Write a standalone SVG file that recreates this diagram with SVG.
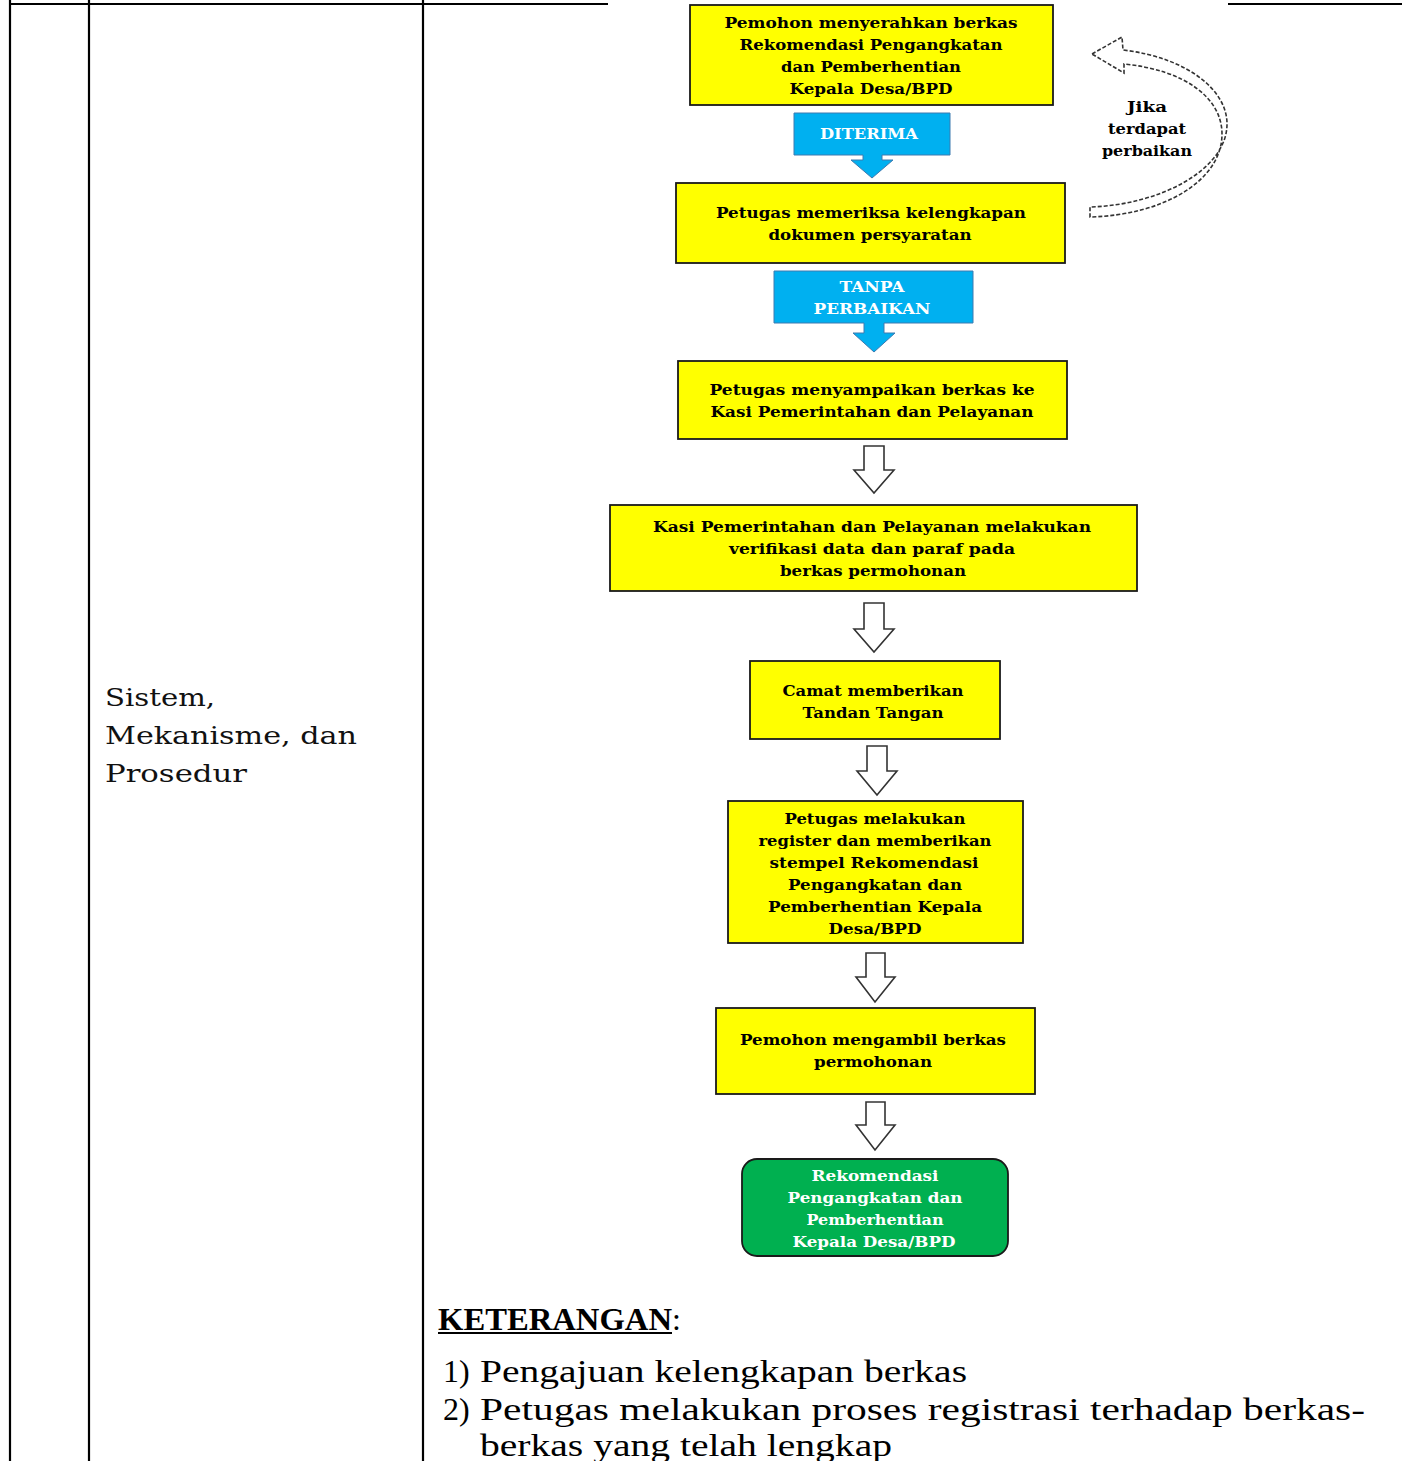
<svg xmlns="http://www.w3.org/2000/svg" width="1402" height="1461" viewBox="0 0 1402 1461">
<style>
.tbl{stroke:#000;stroke-width:2.2;fill:none}
.box{fill:#FFFF00;stroke:#1a1a1a;stroke-width:1.8}
.end{fill:#00B050;stroke:#1a1a1a;stroke-width:1.8}
.blue{fill:#00B0F0;stroke:#3d7ab0;stroke-width:1}
.hol{fill:#fff;stroke:#333;stroke-width:1.6;stroke-linejoin:miter}
.ft{font-family:"DejaVu Serif","Liberation Serif",serif;font-weight:bold;font-size:15px;fill:#000;text-anchor:middle}
.lt{font-family:"DejaVu Serif","Liberation Serif",serif;font-size:25px;fill:#111}
.kt{font-family:"Liberation Serif","DejaVu Serif",serif;font-size:32px;fill:#000}
</style>
<rect width="1402" height="1461" fill="#fff"/>
<g id="table">
<line class="tbl" x1="10" y1="0" x2="10" y2="1461"/>
<line class="tbl" x1="89" y1="0" x2="89" y2="1461"/>
<line class="tbl" x1="423" y1="0" x2="423" y2="1461"/>
<line class="tbl" x1="10" y1="4" x2="608" y2="4"/>
<line class="tbl" x1="1228" y1="4" x2="1402" y2="4"/>
</g>
<g id="label-left">
<text class="lt" x="105" y="706" textLength="110" lengthAdjust="spacingAndGlyphs">Sistem,</text>
<text class="lt" x="105" y="744" textLength="252" lengthAdjust="spacingAndGlyphs">Mekanisme, dan</text>
<text class="lt" x="105" y="782" textLength="142" lengthAdjust="spacingAndGlyphs">Prosedur</text>
</g>
<g id="connectors">
<path id="c-diterima" class="blue" d="M794,113 H950 V155 H882 V160 H893 L872,178 L851,160 H863 V155 H794 Z"/>
<path id="c-tanpa" class="blue" d="M774,271 H973 V323 H884 V333 H895 L874,352 L853,333 H864 V323 H774 Z"/>
<path class="hol" d="M864,446 H884 V470 H894 L874,493 L854,470 H864 Z"/>
<path class="hol" d="M864,603 H884 V629 H894 L874,652 L854,629 H864 Z"/>
<path class="hol" d="M867,746 H887 V771 H897 L877,795 L857,771 H867 Z"/>
<path class="hol" d="M866,953 H885 V977 H895 L875,1002 L856,977 H866 Z"/>
<path class="hol" d="M866,1102 H885 V1125 H895 L875,1150 L856,1125 H866 Z"/>
<path id="c-loop" d="M1092,54 L1122,37 L1123,50 C1190,58 1228,92 1227,125 C1226,170 1160,205 1090,207 L1090,217 C1165,215 1222,180 1222,134 C1222,98 1185,70 1124,64 L1124,73 Z" fill="#fff" stroke="#333" stroke-width="1.6" stroke-dasharray="4,2"/>
<text class="ft" x="869" y="139" textLength="98" lengthAdjust="spacingAndGlyphs" style="fill:#fff">DITERIMA</text>
<text class="ft" x="872" y="292" textLength="65" lengthAdjust="spacingAndGlyphs" style="fill:#fff">TANPA</text>
<text class="ft" x="872" y="314" textLength="117" lengthAdjust="spacingAndGlyphs" style="fill:#fff">PERBAIKAN</text>
<text class="ft" x="1147" y="112" textLength="40" lengthAdjust="spacingAndGlyphs">Jika</text>
<text class="ft" x="1147" y="134" textLength="78" lengthAdjust="spacingAndGlyphs">terdapat</text>
<text class="ft" x="1147" y="156" textLength="90" lengthAdjust="spacingAndGlyphs">perbaikan</text>
</g>
<g id="n1">
<rect class="box" x="690" y="5" width="363" height="100"/>
<text class="ft" x="871" y="28" textLength="293" lengthAdjust="spacingAndGlyphs">Pemohon menyerahkan  berkas</text>
<text class="ft" x="871" y="50" textLength="263" lengthAdjust="spacingAndGlyphs">Rekomendasi Pengangkatan</text>
<text class="ft" x="871" y="72" textLength="180" lengthAdjust="spacingAndGlyphs">dan Pemberhentian</text>
<text class="ft" x="871" y="94" textLength="163" lengthAdjust="spacingAndGlyphs">Kepala Desa/BPD</text>
</g>
<g id="n2">
<rect class="box" x="676" y="183" width="389" height="80"/>
<text class="ft" x="871" y="218" textLength="310" lengthAdjust="spacingAndGlyphs">Petugas memeriksa  kelengkapan</text>
<text class="ft" x="870" y="240" textLength="203" lengthAdjust="spacingAndGlyphs">dokumen persyaratan</text>
</g>
<g id="n3">
<rect class="box" x="678" y="361" width="389" height="78"/>
<text class="ft" x="872" y="395" textLength="325" lengthAdjust="spacingAndGlyphs">Petugas menyampaikan berkas ke</text>
<text class="ft" x="872" y="417" textLength="323" lengthAdjust="spacingAndGlyphs">Kasi Pemerintahan  dan Pelayanan</text>
</g>
<g id="n4">
<rect class="box" x="610" y="505" width="527" height="86"/>
<text class="ft" x="872" y="532" textLength="438" lengthAdjust="spacingAndGlyphs">Kasi Pemerintahan  dan Pelayanan  melakukan</text>
<text class="ft" x="872" y="554" textLength="286" lengthAdjust="spacingAndGlyphs">verifikasi  data dan paraf pada</text>
<text class="ft" x="873" y="576" textLength="186" lengthAdjust="spacingAndGlyphs">berkas permohonan</text>
</g>
<g id="n5">
<rect class="box" x="750" y="661" width="250" height="78"/>
<text class="ft" x="873" y="696" textLength="181" lengthAdjust="spacingAndGlyphs">Camat memberikan</text>
<text class="ft" x="873" y="718" textLength="141" lengthAdjust="spacingAndGlyphs">Tandan Tangan</text>
</g>
<g id="n6">
<rect class="box" x="728" y="801" width="295" height="142"/>
<text class="ft" x="875" y="824" textLength="181" lengthAdjust="spacingAndGlyphs">Petugas melakukan</text>
<text class="ft" x="875" y="846" textLength="233" lengthAdjust="spacingAndGlyphs">register  dan memberikan</text>
<text class="ft" x="874" y="868" textLength="209" lengthAdjust="spacingAndGlyphs">stempel Rekomendasi</text>
<text class="ft" x="875" y="890" textLength="174" lengthAdjust="spacingAndGlyphs">Pengangkatan  dan</text>
<text class="ft" x="875" y="912" textLength="214" lengthAdjust="spacingAndGlyphs">Pemberhentian  Kepala</text>
<text class="ft" x="875" y="934" textLength="93" lengthAdjust="spacingAndGlyphs">Desa/BPD</text>
</g>
<g id="n7">
<rect class="box" x="716" y="1008" width="319" height="86"/>
<text class="ft" x="873" y="1045" textLength="266" lengthAdjust="spacingAndGlyphs">Pemohon mengambil  berkas</text>
<text class="ft" x="873" y="1067" textLength="118" lengthAdjust="spacingAndGlyphs">permohonan</text>
</g>
<g id="n8">
<rect class="end" x="742" y="1159" width="266" height="97" rx="15" ry="15"/>
<text class="ft" x="875" y="1181" textLength="127" lengthAdjust="spacingAndGlyphs" style="fill:#fff">Rekomendasi</text>
<text class="ft" x="875" y="1203" textLength="175" lengthAdjust="spacingAndGlyphs" style="fill:#fff">Pengangkatan  dan</text>
<text class="ft" x="875" y="1225" textLength="137" lengthAdjust="spacingAndGlyphs" style="fill:#fff">Pemberhentian</text>
<text class="ft" x="874" y="1247" textLength="163" lengthAdjust="spacingAndGlyphs" style="fill:#fff">Kepala Desa/BPD</text>
</g>
<g id="keterangan">
<text class="kt" x="438" y="1330"><tspan font-weight="bold" textLength="234" lengthAdjust="spacingAndGlyphs">KETERANGAN</tspan><tspan>:</tspan></text>
<line x1="438" y1="1333" x2="672" y2="1333" stroke="#000" stroke-width="2"/>
<text class="kt" x="443" y="1382">1)</text>
<text class="kt" x="480" y="1382" textLength="487" lengthAdjust="spacingAndGlyphs">Pengajuan kelengkapan berkas</text>
<text class="kt" x="443" y="1420">2)</text>
<text class="kt" x="480" y="1420" textLength="885" lengthAdjust="spacingAndGlyphs">Petugas  melakukan  proses  registrasi  terhadap  berkas-</text>
<text class="kt" x="480" y="1456" textLength="412" lengthAdjust="spacingAndGlyphs">berkas yang telah lengkap</text>
</g>
</svg>
